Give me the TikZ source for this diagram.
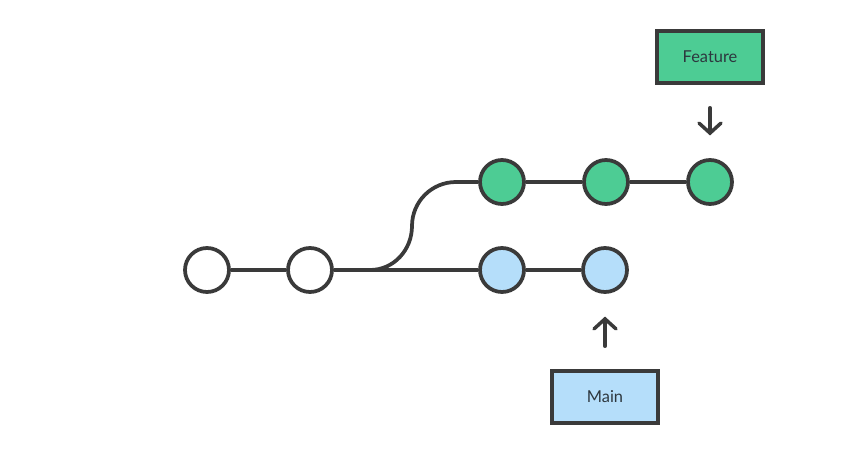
\documentclass[tikz,border=0pt]{standalone}
\usepackage{fontspec}
\setmainfont{Lato}
\usepackage{tikz}
\usetikzlibrary{arrows.meta,calc}
\definecolor{linegray}{RGB}{58,58,58}
\definecolor{featgreen}{RGB}{77,204,148}
\definecolor{mainblue}{RGB}{181,222,250}
\definecolor{labeltext}{RGB}{45,55,62}
\tikzset{
  commit/.style={circle, minimum size=1.32cm, inner sep=0pt,
                 draw=linegray, line width=3.2pt, fill=#1},
  commit/.default=white,
  history/.style={draw=linegray, line width=3.2pt},
  refbox/.style={rectangle, minimum width=3.2cm, minimum height=1.56cm,
                 draw=linegray, line width=3.6pt, fill=#1,
                 font=\fontsize{14}{16}\selectfont, text=labeltext},
  refptr/.style={draw=linegray, line width=3pt, line cap=round,
                 -{Straight Barb[length=0.3cm,width=0.66cm,line cap=round]},
                 shorten <=0.68cm, shorten >=0.68cm},
}
\begin{document}
\begin{tikzpicture}[x=0.03cm,y=-0.03cm]
  \useasboundingbox (0,0) rectangle (857,466);
  % Shared history
  \node[commit] (c1) at (207,270) {};
  \node[commit] (c2) at (310,270) {};
  % Main branch
  \node[commit=mainblue] (m1) at (502,270) {};
  \node[commit=mainblue] (m2) at (605,270) {};
  % Feature branch
  \foreach \x/\n in {502/f1, 606/f2, 710/f3}{
    \node[commit=featgreen] (\n) at (\x,182) {};
  }
  % Branch heads
  \node[refbox=featgreen] (feature) at (710,57) {Feature};
  \node[refbox=mainblue] (main) at (605,397) {Main};
  % Links
  \draw[history] (c1) -- (c2);
  \draw[history] (c2) -- (m1);
  \draw[history] (m1) -- (m2);
  \coordinate (fork) at (370,270);
  \coordinate (bend) at (412,226);
  \coordinate (rise) at (456,182);
  \draw[history] (fork) to[out=0,in=270] (bend) to[out=90,in=180] (rise) -- (f1);
  \draw[history] (f1) -- (f2);
  \draw[history] (f2) -- (f3);
  % Pointers
  \draw[refptr] (feature) -- (f3);
  \draw[refptr] (main) -- (m2);
\end{tikzpicture}
\end{document}
